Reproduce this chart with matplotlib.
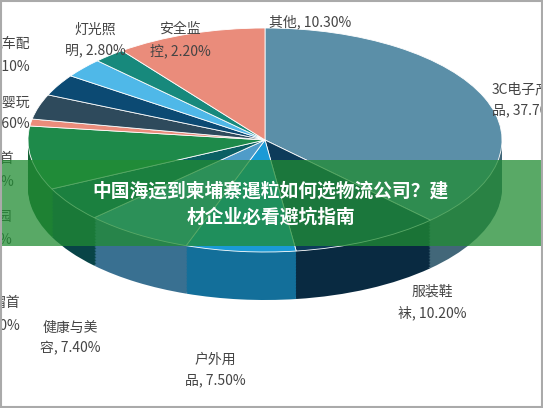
import numpy as np
import matplotlib.pyplot as plt
from matplotlib.patches import Wedge, Rectangle
from matplotlib.transforms import Affine2D
from matplotlib.colors import to_rgb

plt.rcParams['font.family'] = ['Noto Sans CJK SC', 'DejaVu Sans']

labels = ['3C电子产\n品, 37.70%', '服装鞋\n袜, 10.20%', '户外用\n品, 7.50%', '健康与美\n容, 7.40%',
          '鞋帽首\n饰, 5.00%', '家居园\n艺, 9.20%', '珠宝首\n饰, 1.00%', '母婴玩\n具, 3.60%',
          '汽车配\n件, 3.10%', '灯光照\n明, 2.80%', '安全监\n控, 2.20%', '其他, 10.30%']
values = [37.7, 10.2, 7.5, 7.4, 5.0, 9.2, 1.0, 3.6, 3.1, 2.8, 2.2, 10.3]
colors = ['#5b8fa8', '#0d3b5a', '#1a9ad6', '#4f9cc9', '#0b5f63', '#1e8a4a', '#ea8c7b',
          '#2e4a5c', '#0c4a73', '#4fb8e8', '#17897c', '#ea8c7b']
# label anchor positions (pixels from top-left) and alignment
label_pos = [(492, 100, 'left'), (432, 302, 'center'), (215, 370, 'center'), (70, 338, 'center'),
             (20, 314, 'right'), (12, 228, 'right'), (14, 170, 'right'), (30, 113, 'right'),
             (30, 55, 'right'), (95, 40, 'center'), (180, 40, 'center'), (310, 22, 'center')]

fig = plt.figure(figsize=(5.43, 4.08), dpi=100)
ax = fig.add_axes([0, 0, 1, 1])
ax.set_xlim(0, 543)
ax.set_ylim(0, 408)
ax.axis('off')

cx, cy, rx, ry, depth = 265, 268, 237, 112, 48
tr = Affine2D().scale(rx, ry)

angles = []
a = 90.0
for v in values:
    angles.append((a - v * 3.6, a))
    a -= v * 3.6

def dark(c, f=0.72):
    return tuple(x * f for x in to_rgb(c))

for d in np.arange(depth, 0, -1.5):
    t = tr + Affine2D().translate(cx, cy - d) + ax.transData
    for (a1, a2), c in zip(angles, colors):
        ax.add_patch(Wedge((0, 0), 1, a1, a2, facecolor=dark(c), edgecolor='none', transform=t))
t = tr + Affine2D().translate(cx, cy) + ax.transData
for (a1, a2), c in zip(angles, colors):
    ax.add_patch(Wedge((0, 0), 1, a1, a2, facecolor=c, edgecolor='white', lw=0.6, transform=t))

for lab, (x, y, ha) in zip(labels, label_pos):
    ax.text(x, 408 - y, lab, ha=ha, va='center', fontsize=10, color='#444444', linespacing=1.6)

ax.add_patch(Rectangle((0, 408 - 246), 543, 86, facecolor=(0.13, 0.55, 0.2), alpha=0.75,
                       edgecolor='none', zorder=5))
ax.text(271, 408 - 204, '中国海运到柬埔寨暹粒如何选物流公司？建\n材企业必看避坑指南', ha='center', va='center',
        fontsize=13.5, fontweight='bold', color='white', zorder=6, linespacing=1.5)
ax.add_patch(Rectangle((1, 1), 541, 406, facecolor='none', edgecolor='#aaaaaa', lw=1.5, zorder=7))

fig.savefig('out.png')
